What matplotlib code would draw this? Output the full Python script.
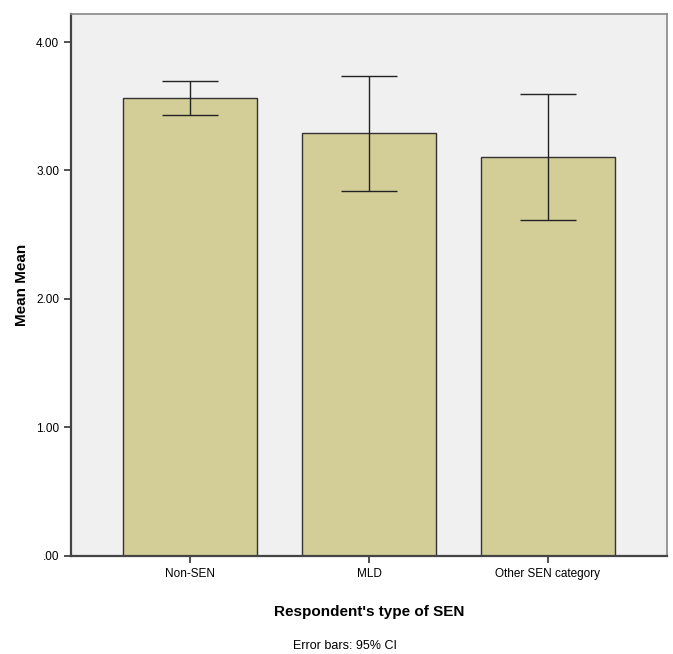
import matplotlib
matplotlib.use("Agg")
import numpy as np
import matplotlib.pyplot as plt

categories = ["Non-SEN", "MLD", "Other SEN category"]
means = [3.564, 3.292, 3.105]
ci_low = [3.432, 2.840, 2.615]
ci_high = [3.696, 3.735, 3.595]

plt.rcParams['font.family'] = ['Liberation Sans', 'DejaVu Sans']

fig = plt.figure(figsize=(6.73, 6.54), dpi=100)
ax = fig.add_axes([0.1055, 0.150, 0.8855, 0.8286])
ax.set_facecolor('#f0f0f0')

x = np.arange(len(categories))
m = np.array(means)
yerr = [m - np.array(ci_low), np.array(ci_high) - m]
ax.bar(x, m, width=0.75, color='#d3ce98', edgecolor='#333333', linewidth=1.0, zorder=2)
ax.errorbar(x, m, yerr=yerr, fmt='none', ecolor='#222222', elinewidth=1.0,
            capsize=20, capthick=1.0, zorder=3)

ax.set_xlim(-0.665, 2.665)
ax.set_ylim(0, 4.218)
ax.set_yticks([0, 1, 2, 3, 4])
ax.set_yticklabels(['.00', '1.00', '2.00', '3.00', '4.00'], fontsize=8.5)
ax.set_xticks(x)
ax.set_xticklabels(categories, fontsize=8.5)
ax.tick_params(direction='out', length=5, width=1.2, color='#333333')

for s in ['left', 'bottom']:
    ax.spines[s].set_color('#444444')
    ax.spines[s].set_linewidth(1.6)
for s in ['top', 'right']:
    ax.spines[s].set_color('#888888')
    ax.spines[s].set_linewidth(1.2)

ax.set_ylabel('Mean Mean', fontsize=11, fontweight='bold', labelpad=5)
ax.set_xlabel("Respondent's type of SEN", fontsize=11, fontweight='bold', labelpad=18)

fig.text(0.513, 0.0125, 'Error bars: 95% CI', ha='center', va='center', fontsize=9)

fig.savefig('out.png', dpi=100)
